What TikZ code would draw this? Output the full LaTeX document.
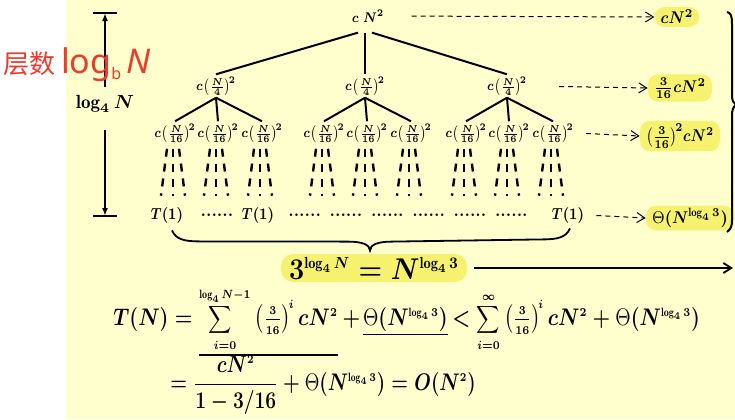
\RequirePackage{fix-cm}
\documentclass[tikz,border=0pt]{standalone}
\usepackage{amsmath}
\usepackage{graphicx}
\usepackage{fontspec}
\newfontfamily\cjk{Noto Sans CJK SC}
\newfontfamily\hand{Noto Sans}
\usetikzlibrary{calc,positioning,arrows.meta}
\definecolor{bgyellow}{RGB}{255,255,206}
\definecolor{hlyellow}{RGB}{246,241,110}
\definecolor{penred}{RGB}{236,58,44}
\DeclareMathSizes{7}{7}{5}{4}
\DeclareMathSizes{8}{8}{5.5}{4.5}
\DeclareMathSizes{8.5}{8.5}{6}{5}
\DeclareMathSizes{9.5}{9.5}{6.5}{5}
\DeclareMathSizes{12}{12}{6}{5}
\DeclareMathSizes{15}{15}{8}{6}
\newcommand{\Th}{\mbox{\unboldmath$\Theta$}}
\newcommand{\qf}{\left(\tfrac{3}{16}\right)}
\newcommand{\cq}[1]{c\mkern-2mu\left(\tfrac{N}{#1}\right)^{\!2}}
\newcommand{\nx}[2]{\scalebox{#1}[1]{#2}}
\newcommand{\bigsum}{\mathop{\scalebox{0.8}{$\displaystyle\sum$}}\limits}
\tikzset{
  every node/.append style={inner sep=1pt},
  tree/.style={font=\fontsize{7}{8}\selectfont\boldmath},
  leaf/.style={font=\fontsize{8}{10}\selectfont\bfseries\boldmath},
  rsum/.style={font=\fontsize{8.5}{10}\selectfont\boldmath},
  big/.style={font=\fontsize{12}{14}\selectfont\boldmath, inner sep=0pt},
  highlight/.style={fill=hlyellow, rounded corners=5pt, inner xsep=3pt, inner ysep=1.5pt},
  edge/.style={line width=1pt},
  fan/.style={line width=1.2pt, dash pattern=on 4pt off 3.5pt},
  sumarrow/.style={->, line width=0.5pt, dash pattern=on 2.5pt off 2pt},
  uline/.style={line width=0.8pt},
}

\begin{document}
\begin{tikzpicture}[x=0.5pt, y=-0.5pt, >={Straight Barb[length=4pt,width=5pt]}]
    \useasboundingbox (0,0) rectangle (735,419);
    \fill[white] (0,0) rectangle (735,419);
    \fill[bgyellow] (66,0) rectangle (735,419);

    % height of the tree
    \coordinate (ht) at (105,13);
    \coordinate (hb) at (105,216);
    \node[font=\fontsize{9.5}{11}\selectfont\boldmath, inner sep=4pt] (levels) at (105,104) {$\log_4 N$};
    \draw[line width=0.9pt, -{Latex[length=4pt,width=3pt]}] (levels.north) -- (ht);
    \draw[line width=0.9pt, -{Latex[length=4pt,width=3pt]}, shorten <=4.5pt] (levels.south) -- (hb);
    \foreach \c in {ht,hb}
        \draw[line width=1.1pt] ($(\c)+(-12,0)$) -- ($(\c)+(12,0)$);
    \node[penred, anchor=base west, inner sep=0pt] (note) at (3,73)
        {\cjk\fontsize{13}{13}\selectfont 层数\hand\fontsize{17}{17}\selectfont\,log\raisebox{-3pt}{\fontsize{8}{8}\selectfont b}\,\textit{N}};

    % recursion tree
    \node[tree] (root) at (368,16) {\nx{0.85}{$c\;N^2$}};
    \foreach \i/\x/\s in {1/216/-10, 2/365/-3, 3/507/4} {
        \node[tree] (m\i) at (\x,86) {\nx{0.82}{$\cq{4}$}};
        \draw[edge] ($(root.south)+(\s,8)$) -- (m\i.north);
        \foreach \j/\dx in {1/-41, 2/2, 3/46} {
            \node[tree] (b\i\j) at (\x+\dx,133) {\nx{0.82}{$\cq{16}$}};
            \draw[edge] (m\i.south) -- (b\i\j.north);
            \foreach \o in {-6,0,6}
                \draw[fan] ($(b\i\j.south)+(\o-2,4)$) -- ++(\o,47);
        }
    }

    % leaves
    \node[leaf] (t1) at (167,215) {\nx{0.85}{$T(1)$}};
    \node[leaf] (d1) at (217,215) {......};
    \node[leaf] (t2) at (258,215) {\nx{0.85}{$T(1)$}};
    \node[leaf] (d2) at (408,215) {...... ...... ...... ...... ...... ......};
    \node[leaf] (t3) at (568,215) {\nx{0.85}{$T(1)$}};

    % cost of each level
    \node[highlight, rsum] (r0) at (677,17) {\nx{0.9}{$cN^2$}};
    \node[highlight, rsum] (r1) at (680,88) {\nx{0.9}{$\frac{3}{16}cN^2$}};
    \node[highlight, rsum] (r2) at (680,136) {\nx{0.85}{$\bigl(\frac{3}{16}\bigr)^{\!2}cN^2$}};
    \node[highlight, rsum] (r3) at (690,218) {\nx{0.9}{$\Th(N^{\log_4 3})$}};
    \draw[sumarrow, shorten <=12.5pt] (root.east) -- (r0.west);
    \draw[sumarrow, shorten <=15pt] (m3.east) -- (r1.west);
    \draw[sumarrow, shorten <=5pt] (b33.east) -- (r2.west);
    \draw[sumarrow, shorten <=5pt] (t3.east) -- (r3.west);
    \draw[line width=1pt] (727,12) .. controls (731,13) and (732,16) .. (732,24) -- (732,95)
        .. controls (732,100) and (733,103) .. (736,105);
    \draw[line width=1pt] (736,105) .. controls (733,107) and (732,110) .. (732,116) -- (732,220)
        .. controls (732,226) and (731,229) .. (727,232);

    % number of leaves
    \node[highlight, font=\fontsize{15}{17}\selectfont\boldmath, rounded corners=6pt, inner xsep=4pt] (eqbox) at (374,268)
        {\nx{0.9}{$3^{\log_4 N} = N^{\log_4 3}$}};
    \coordinate (bl) at ($(t1.south)+(5,5)$);
    \coordinate (br) at ($(t3.south)+(2,3)$);
    \coordinate (bm) at ($(eqbox.north)+(-4,-3)$);
    \draw[line width=0.9pt] (bl) .. controls ($(bl)+(4,9)$) and ($(bl)+(12,11)$) .. ($(bl)+(28,11)$)
        -- ($(bm)+(-22,-9)$) .. controls ($(bm)+(-8,-9)$) and ($(bm)+(0,-6)$) .. (bm)
        .. controls ($(bm)+(0,-6)$) and ($(bm)+(8,-9)$) .. ($(bm)+(22,-9)$)
        -- ($(br)+(-28,11)$) .. controls ($(br)+(-12,11)$) and ($(br)+(-4,9)$) .. (br);
    \coordinate (outr) at (733,268);
    \draw[->, line width=0.9pt, shorten <=3.5pt] (eqbox.east) -- (outr);

    % total cost
    \node[big, anchor=base west] (tn) at (113,325) {\nx{0.84}{$T(N)=$}};
    \node[big, base right=3pt of tn] (suma) {\nx{0.84}{$\bigsum_{i=0}^{\log_4 N-1}\qf^{\!i} cN^2$}};
    \node[big, base right=2pt of suma] (plusa) {\nx{0.84}{$+$}};
    \node[big, base right=1pt of plusa] (thetaa) {\nx{0.84}{$\Th(N^{\log_4 3})$}};
    \node[big, base right=2pt of thetaa] (rest) {\nx{0.84}{$<\bigsum_{i=0}^{\infty}\qf^{\!i} cN^2+\Th(N^{\log_4 3})$}};
    \draw[uline] ([yshift=-1pt]suma.south west) -- ([yshift=-1pt]suma.south east);
    \draw[uline] ([yshift=-1.5pt]thetaa.south west) -- ([yshift=-1.5pt]thetaa.south east);
    \node[big, anchor=west] (eqb) at (170,385) {\nx{0.8}{$=\dfrac{cN^2}{1-3/16}+\Th(N^{\log_4 3})=O(N^2)$}};
\end{tikzpicture}
\end{document}
